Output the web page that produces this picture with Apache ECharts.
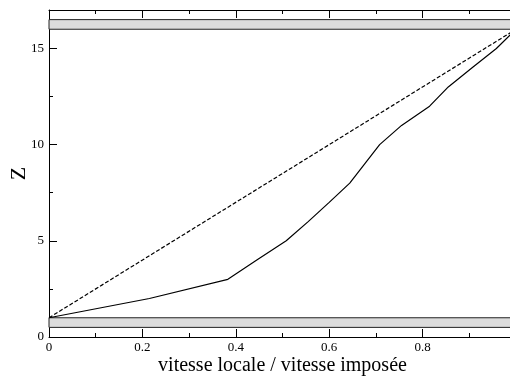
<!DOCTYPE html>
<html>
<head>
<meta charset="utf-8">
<script src="https://cdn.jsdelivr.net/npm/echarts@6/dist/echarts.min.js"></script>
<style>
  html, body { margin: 0; padding: 0; background: #fff; }
  #chart { width: 510px; height: 376px; }
</style>
</head>
<body>
<div id="chart"></div>
<script>
// Local velocity profile (solid) against the imposed linear profile (dashed)
const zLocal = [1, 2, 3, 4, 5, 6, 7, 8, 9, 10, 11, 12, 13, 14, 15, 16];
const vLocal = [0, 0.215, 0.383, 0.445, 0.508, 0.555, 0.600, 0.644, 0.676, 0.708, 0.755, 0.815, 0.855, 0.906, 0.958, 1.0];
const vImposed = [0, 1];
const zImposed = [1, 16];
// Walls: lower and upper plates
const lowerWall = [0.5, 1.0];
const upperWall = [16.0, 16.5];
const xTicks = { min: 0, max: 1, step: 0.2 };
const yTicks = { min: 0, max: 17, step: 5 };

const font = 'Liberation Serif';
const chart = echarts.init(document.getElementById('chart'));

const tickCommon = {
  axisLine: { show: true, lineStyle: { color: '#000', width: 1 } },
  axisTick: { show: true, inside: true, length: 8, lineStyle: { color: '#000', width: 1 } },
  minorTick: { show: true, splitNumber: 2, length: 4, lineStyle: { color: '#000', width: 1 } },
  splitLine: { show: false },
  minorSplitLine: { show: false }
};

const wallArea = (range) => [{ yAxis: range[0] }, { yAxis: range[1] }];

chart.setOption({
  animation: false,
  backgroundColor: '#fff',
  grid: { left: 49, right: -6, top: 10, bottom: 39, containLabel: false, outerBoundsMode: 'none' },
  xAxis: [
    Object.assign({
      type: 'value', position: 'bottom',
      min: xTicks.min, max: xTicks.max, interval: xTicks.step,
      name: 'vitesse locale / vitesse imposée',
      nameLocation: 'middle', nameGap: 19, nameMoveOverlap: false,
      nameTextStyle: { fontFamily: font, fontSize: 20, color: '#000' },
      axisLabel: { fontFamily: font, fontSize: 13, color: '#000', margin: 4, showMaxLabel: false,
        formatter: v => (v === 0 ? '0' : String(+v.toFixed(1))) }
    }, tickCommon),
    Object.assign({
      type: 'value', position: 'top',
      min: xTicks.min, max: xTicks.max, interval: xTicks.step,
      axisLabel: { show: false }
    }, tickCommon)
  ],
  yAxis: [
    Object.assign({
      type: 'value', position: 'left',
      min: yTicks.min, max: yTicks.max, interval: yTicks.step,
      name: 'Z', nameLocation: 'middle', nameGap: 19, nameRotate: 90, nameMoveOverlap: false,
      nameTextStyle: { fontFamily: font, fontSize: 22, color: '#000' },
      axisLabel: { fontFamily: font, fontSize: 13, color: '#000', margin: 5, showMaxLabel: false }
    }, tickCommon)
  ],
  series: [
    {
      type: 'line', xAxisIndex: 0, yAxisIndex: 0, z: 1,
      data: [], silent: true,
      markArea: {
        silent: true,
        itemStyle: { color: '#dcdcdc', borderColor: '#222', borderWidth: 1 },
        data: [wallArea(lowerWall), wallArea(upperWall)]
      }
    },
    {
      type: 'line', xAxisIndex: 0, yAxisIndex: 0, z: 3,
      data: vImposed.map((v, i) => [v, zImposed[i]]),
      showSymbol: false, symbol: 'none',
      lineStyle: { color: '#000', width: 1.2, type: [4, 2] }
    },
    {
      type: 'line', xAxisIndex: 0, yAxisIndex: 0, z: 3,
      data: vLocal.map((v, i) => [v, zLocal[i]]),
      showSymbol: false, symbol: 'none',
      lineStyle: { color: '#000', width: 1.2 }
    }
  ]
});
</script>
</body>
</html>
